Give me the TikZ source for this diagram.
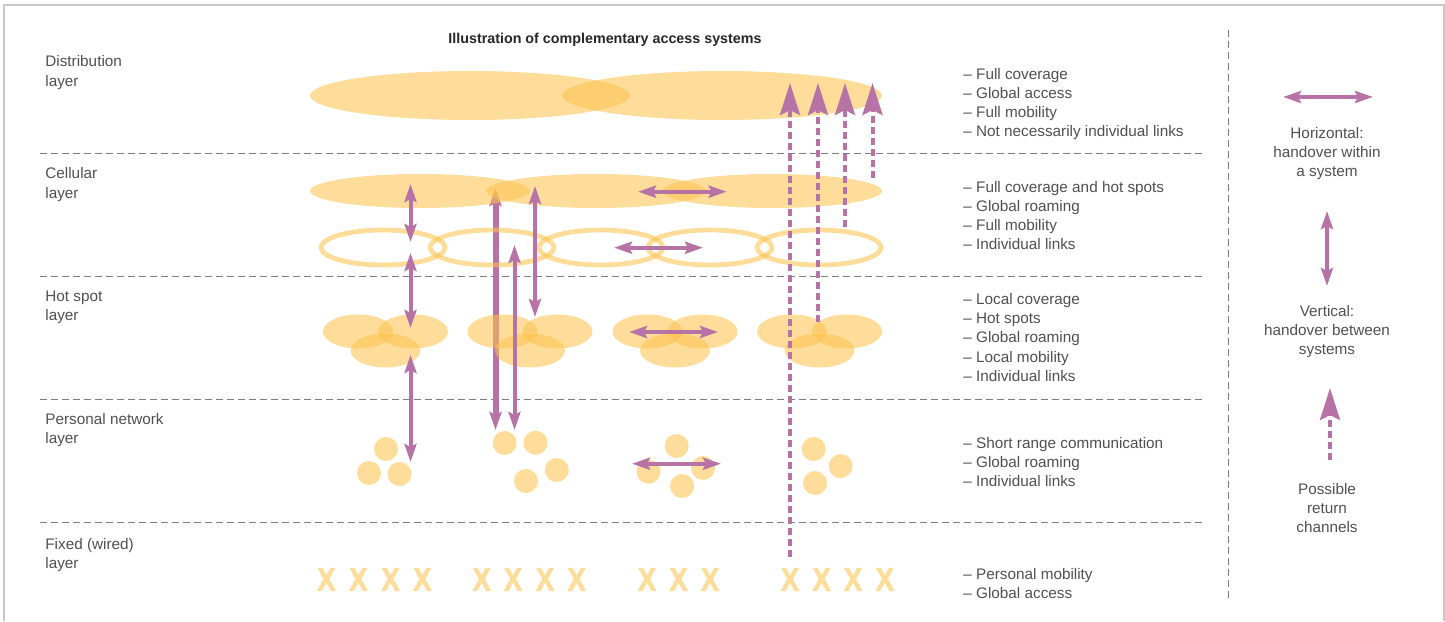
\documentclass[tikz,border=0pt]{standalone}
\usepackage{fontspec}
\setmainfont{Liberation Sans}
\newfontfamily\wirefont[BoldFeatures={FakeBold=2.2}]{Liberation Sans}
\usetikzlibrary{arrows.meta}

\definecolor{coverfill}{RGB}{253,194,77}
\definecolor{pale}{RGB}{254,221,155}
\definecolor{handover}{RGB}{183,115,166}
\definecolor{rulegray}{RGB}{125,125,125}
\definecolor{txtgray}{RGB}{80,80,80}
\definecolor{framegray}{RGB}{200,200,200}

\begin{document}
\begin{tikzpicture}[x=0.5pt,y=-0.5pt,
  txt/.style={text=txtgray,font=\fontsize{7.65pt}{9.6pt}\selectfont,inner sep=0pt},
  lbl/.style={txt,anchor=base west},
  legendtxt/.style={txt,anchor=base},
  ttl/.style={text=black!85,font=\fontsize{7.15pt}{9pt}\selectfont\bfseries,inner sep=0pt,anchor=base},
  layerrule/.style={draw=rulegray,line width=0.5pt,dash pattern=on 3.25pt off 2.25pt},
  coverage/.style={fill=coverfill,fill opacity=0.56},
  ring/.style={draw=coverfill,draw opacity=0.56,line width=2.4pt},
  device/.style={fill=pale},
  wire/.style={text=pale,font=\wirefont\fontsize{16.5pt}{16.5pt}\selectfont\bfseries,inner sep=0pt},
  handoff/.style={draw=handover,line width=2pt,
    {Stealth[length=9pt,width=6pt,inset=1.5pt]}-{Stealth[length=9pt,width=6pt,inset=1.5pt]}},
  wide handoff/.style={handoff,line width=3pt},
  retchan/.style={draw=handover,line width=2pt,dash pattern=on 3.5pt off 2pt,
    -{Stealth[length=16pt,width=10pt,inset=2.5pt]}},
]
\useasboundingbox (0,0) rectangle (1445,621);

% outer frame
\draw[framegray,line width=0.6pt] (4,621) -- (4,5) -- (1444,5) -- (1444,621);

% layer separators and legend divider
\foreach \yy in {153,276,399,522}
  \draw[layerrule] (40,\yy) -- (1205,\yy);
\draw[layerrule] (1228,30) -- (1228,600);

% arrow endpoints
\coordinate (bT) at (495.5,188);  \coordinate (bB) at (495.5,430);
\coordinate (a1T) at (410.5,184); \coordinate (a1B) at (410.5,242);
\coordinate (a2T) at (410.5,253); \coordinate (a2B) at (410.5,328);
\coordinate (a3T) at (410.5,355); \coordinate (a3B) at (410.5,462);
\coordinate (cT) at (514.5,245);  \coordinate (cB) at (514.5,430);
\coordinate (dT) at (535,186);    \coordinate (dB) at (535,317);
\coordinate (h1L) at (638,191.7); \coordinate (h1R) at (726.7,191.7);
\coordinate (h2L) at (614,247.7); \coordinate (h2R) at (703,247.7);
\coordinate (h3L) at (629,332);   \coordinate (h3R) at (718,332);
\coordinate (h4L) at (632,463.7); \coordinate (h4R) at (721,463.7);
\coordinate (r1B) at (790,557);   \coordinate (r1T) at (790,83);
\coordinate (r2B) at (818,322);   \coordinate (r2T) at (818,83);
\coordinate (r3B) at (845,227);   \coordinate (r3T) at (845,83);
\coordinate (r4B) at (872.5,178); \coordinate (r4T) at (872.5,83);
\coordinate (lhL) at (1283,97);   \coordinate (lhR) at (1373,97);
\coordinate (lvT) at (1327,211);  \coordinate (lvB) at (1327,286);
\coordinate (lrB) at (1330,460);  \coordinate (lrT) at (1330,388);

% long vertical handover, lying beneath the coverage areas
\draw[wide handoff] (bT) -- (bB);

% distribution layer
\path[coverage] (470,95.5) ellipse [x radius=160, y radius=24.5];
\path[coverage] (722,95.5) ellipse [x radius=160, y radius=24.5];

% cellular layer: macro cells and micro cells
\foreach \cx in {420,596,772}
  \path[coverage] (\cx,191) ellipse [x radius=110, y radius=17];
\foreach \cx in {383,492,601,710,819}
  \path[ring] (\cx,247.5) ellipse [x radius=62, y radius=17.5];

% hot spot layer
\foreach \cx in {385.5,530,675,819.5} {
  \path[coverage] (\cx-27.5,331.5) ellipse [x radius=35, y radius=17];
  \path[coverage] (\cx+27.5,331.5) ellipse [x radius=35, y radius=17];
  \path[coverage] (\cx,350.5) ellipse [x radius=35, y radius=17];
}

% personal network layer
\foreach \px/\py in {386/449,369/473,399.5/474,
    504.6/443,535.5/442.7,556.8/470,526/481,
    676.6/446,703/468,648.5/471.7,682/486,
    813.7/449,840.6/466,815/483}
  \path[device] (\px,\py) circle [radius=12];

% fixed (wired) layer
\foreach \wx [count=\i] in {326.3,358.3,390.5,422.3,481.7,513,545,576.6,
    647,678.5,710,790,821.6,853,884.8}
  \node[wire] (x\i) at (\wx,579.5) {\scalebox{0.84}[1]{X}};

% handovers
\draw[handoff] (a1T) -- (a1B);
\draw[handoff] (a2T) -- (a2B);
\draw[handoff] (a3T) -- (a3B);
\draw[handoff] (cT) -- (cB);
\draw[handoff] (dT) -- (dB);
\draw[handoff] (h1L) -- (h1R);
\draw[handoff] (h2L) -- (h2R);
\draw[handoff] (h3L) -- (h3R);
\draw[handoff] (h4L) -- (h4R);

% return channels
\draw[retchan] (r1B) -- (r1T);
\draw[retchan] (r2B) -- (r2T);
\draw[retchan] (r3B) -- (r3T);
\draw[retchan] (r4B) -- (r4T);

% legend
\draw[handoff] (lhL) -- (lhR);
\draw[handoff] (lvT) -- (lvB);
\draw[retchan] (lrB) -- (lrT);
\node[legendtxt] (lh1) at (1327,138.4) {Horizontal:};
\node[legendtxt] (lh2) at (1327,157.4) {handover within};
\node[legendtxt] (lh3) at (1327,176.4) {a system};
\node[legendtxt] (lv1) at (1327,316.4) {Vertical:};
\node[legendtxt] (lv2) at (1327,335.4) {handover between};
\node[legendtxt] (lv3) at (1327,354.4) {systems};
\node[legendtxt] (lr1) at (1327,494.4) {Possible};
\node[legendtxt] (lr2) at (1327,513.4) {return};
\node[legendtxt] (lr3) at (1327,532.4) {channels};

% title
\node[ttl] (title) at (605,43) {Illustration of complementary access systems};

% layer names
\node[lbl] (n1a) at (45,66) {Distribution};
\node[lbl] (n1b) at (45,86) {layer};
\node[lbl] (n2a) at (45,178.5) {Cellular};
\node[lbl] (n2b) at (45,198.5) {layer};
\node[lbl] (n3a) at (45,301) {Hot spot};
\node[lbl] (n3b) at (45,320.5) {layer};
\node[lbl] (n4a) at (45,424) {Personal network};
\node[lbl] (n4b) at (45,443.5) {layer};
\node[lbl] (n5a) at (45,549) {Fixed (wired)};
\node[lbl] (n5b) at (45,568.5) {layer};

% properties of each layer
\node[lbl] (p11) at (963,79.2) {– Full coverage};
\node[lbl] (p12) at (963,98.4) {– Global access};
\node[lbl] (p13) at (963,117.6) {– Full mobility};
\node[lbl] (p14) at (963,136.8) {– Not necessarily individual links};

\node[lbl] (p21) at (963,192.2) {– Full coverage and hot spots};
\node[lbl] (p22) at (963,211.4) {– Global roaming};
\node[lbl] (p23) at (963,230.6) {– Full mobility};
\node[lbl] (p24) at (963,249.8) {– Individual links};

\node[lbl] (p31) at (963,304.4) {– Local coverage};
\node[lbl] (p32) at (963,323.6) {– Hot spots};
\node[lbl] (p33) at (963,342.8) {– Global roaming};
\node[lbl] (p34) at (963,362) {– Local mobility};
\node[lbl] (p35) at (963,381.2) {– Individual links};

\node[lbl] (p41) at (963,448.4) {– Short range communication};
\node[lbl] (p42) at (963,467.6) {– Global roaming};
\node[lbl] (p43) at (963,486.8) {– Individual links};

\node[lbl] (p51) at (963,579.4) {– Personal mobility};
\node[lbl] (p52) at (963,598.6) {– Global access};
\end{tikzpicture}
\end{document}
